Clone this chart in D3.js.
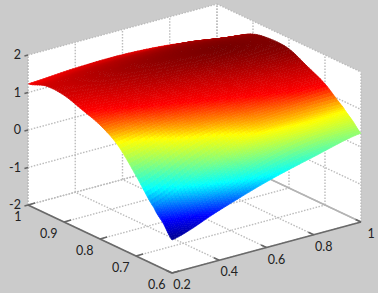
<!DOCTYPE html>
<html>
<head>
<meta charset="utf-8">
<script src="https://cdn.jsdelivr.net/npm/d3@7"></script>
<style>
  html, body { margin: 0; padding: 0; background: #cbcbcb; }
  svg { display: block; }
  text { font-family: Lato, "Open Sans", sans-serif; font-size: 12.5px; fill: #222; }
</style>
</head>
<body>
<div id="viz_container"></div>
<script>
const width = 378;
const height = 293;

const xTicks = [0.2, 0.4, 0.6, 0.8, 1];
const yTicks = [0.6, 0.7, 0.8, 0.9, 1];
const zTicks = [-2, -1, 0, 1, 2];

// surface, extra row near the front where it drops fast
const gridX = [0.2, 0.4, 0.6, 0.8, 1];
const gridY = [1, 0.95, 0.9, 0.85, 0.8, 0.75, 0.7, 0.65, 0.625, 0.6];
const zAt02 = [1.23, 1.40, 1.38, 1.22, 1.04, 0.72, 0.14, -0.49, -0.78, -1.12];
const zAt04 = [1.31, 1.50, 1.55, 1.42, 1.20, 0.98, 0.70, 0.14, -0.30, -0.67];
const zAt06 = [1.33, 1.55, 1.68, 1.62, 1.38, 1.16, 0.96, 0.72, 0.30, -0.25];
const zAt08 = [1.25, 1.54, 1.72, 1.76, 1.58, 1.33, 1.11, 0.86, 0.60, 0.08];
const zAt10 = [1.07, 1.37, 1.65, 1.74, 1.71, 1.48, 1.23, 0.84, 0.61, 0.37];
const zRows = [zAt02, zAt04, zAt06, zAt08, zAt10];

// colour stops, jet but squeezed to what the bands show
const colorZ = [-1.12, -0.75, -0.15, 0.3, 0.76, 1.2, 1.8];
const colorV = ["#00008f", "#0000ff", "#00ffff", "#80ff80", "#ffff00", "#ff0000", "#700000"];

const color = d3.scaleLinear().domain(colorZ).range(colorV).clamp(true);

// oblique projection, one pair of scales per data axis
const originX = 172;
const originY = 273;
const xToPx = d3.scaleLinear().domain([0.2, 1]).range([0, 189]);
const xToPy = d3.scaleLinear().domain([0.2, 1]).range([0, -51]);
const yToPx = d3.scaleLinear().domain([0.6, 1]).range([0, -144]);
const yToPy = d3.scaleLinear().domain([0.6, 1]).range([0, -68]);
const zToPy = d3.scaleLinear().domain([-2, 2]).range([0, -150]);

function project(x, y, z) {
  return [
    originX + xToPx(x) + yToPx(y),
    originY + xToPy(x) + yToPy(y) + zToPy(z),
  ];
}

const svg = d3
  .select("#viz_container")
  .append("svg")
  .attr("width", width)
  .attr("height", height)
  .attr("viewBox", `0 0 ${width} ${height}`);

const blur = svg.append("defs").append("filter").attr("id", "soft");
blur.append("feGaussianBlur").attr("stdDeviation", 0.45);

const plot = svg.append("g").attr("filter", "url(#soft)");
const line = d3.line();
const toPath = (d) => line(d.map((p) => project(p[0], p[1], p[2])));

// walls and floor
const walls = [
  [[0.2, 1, -2], [1, 1, -2], [1, 1, 2], [0.2, 1, 2]],
  [[1, 1, -2], [1, 0.6, -2], [1, 0.6, 2], [1, 1, 2]],
  [[0.2, 0.6, -2], [1, 0.6, -2], [1, 1, -2], [0.2, 1, -2]],
];
plot
  .selectAll("path.wall")
  .data(walls)
  .enter()
  .append("path")
  .attr("class", "wall")
  .attr("fill", "#ffffff")
  .attr("d", (d) => toPath(d) + "Z");

// dotted grid
const gridLines = [];
xTicks.forEach((x) => {
  gridLines.push([[x, 0.6, -2], [x, 1, -2]]);
  gridLines.push([[x, 1, -2], [x, 1, 2]]);
});
yTicks.forEach((y) => {
  gridLines.push([[0.2, y, -2], [1, y, -2]]);
  gridLines.push([[1, y, -2], [1, y, 2]]);
});
zTicks.forEach((z) => {
  gridLines.push([[0.2, 1, z], [1, 1, z]]);
  gridLines.push([[1, 1, z], [1, 0.6, z]]);
});
plot
  .selectAll("path.grid")
  .data(gridLines)
  .enter()
  .append("path")
  .attr("class", "grid")
  .attr("fill", "none")
  .attr("stroke", "#bcbcbc")
  .attr("stroke-width", 1.4)
  .attr("stroke-dasharray", "1.5 1.5")
  .attr("d", toPath);

// solid foot of the right wall
plot
  .append("path")
  .attr("fill", "none")
  .attr("stroke", "#b4b4b4")
  .attr("stroke-width", 1.5)
  .attr("d", toPath([[1, 1, -2], [1, 0.6, -2]]));

// surface: every grid quad is split up with a cubic through the read values,
// just for the smooth shading
const catmull = (p0, p1, p2, p3, t) =>
  0.5 *
  (2 * p1 +
    (p2 - p0) * t +
    (2 * p0 - 5 * p1 + 4 * p2 - p3) * t * t +
    (3 * p1 - p0 - 3 * p2 + p3) * t * t * t);
const pick = (arr, i) => arr[Math.max(0, Math.min(arr.length - 1, i))];

function surfaceAt(u, v) {
  const i = Math.min(Math.floor(u), gridX.length - 2);
  const j = Math.min(Math.floor(v), gridY.length - 2);
  const fu = u - i;
  const fv = v - j;
  const col = [-1, 0, 1, 2].map((di) => {
    const r = pick(zRows, i + di);
    return catmull(pick(r, j - 1), pick(r, j), pick(r, j + 1), pick(r, j + 2), fv);
  });
  const x = gridX[i] + (gridX[i + 1] - gridX[i]) * fu;
  const y = gridY[j] + (gridY[j + 1] - gridY[j]) * fv;
  return [x, y, catmull(col[0], col[1], col[2], col[3], fu)];
}

const steps = 8;
const cells = [];
const nu = (gridX.length - 1) * steps * 2;
const nv = (gridY.length - 1) * steps;
for (let b = 0; b < nv; b++) {
  for (let a = nu - 1; a >= 0; a--) {
    const du = 1 / (steps * 2);
    const dv = 1 / steps;
    cells.push([
      surfaceAt(a * du, b * dv),
      surfaceAt((a + 1) * du, b * dv),
      surfaceAt((a + 1) * du, (b + 1) * dv),
      surfaceAt(a * du, (b + 1) * dv),
    ]);
  }
}
plot
  .selectAll("path.cell")
  .data(cells)
  .enter()
  .append("path")
  .attr("class", "cell")
  .attr("d", (d) => toPath(d) + "Z")
  .attr("fill", (d) => color(d3.mean(d, (p) => p[2])))
  .attr("stroke", (d) => color(d3.mean(d, (p) => p[2])))
  .attr("stroke-width", 0.7);

// front axis lines and tick marks
const axisLines = [
  [[0.2, 0.6, -2], [1, 0.6, -2]],
  [[0.2, 0.6, -2], [0.2, 1, -2]],
];
plot
  .selectAll("path.axis")
  .data(axisLines)
  .enter()
  .append("path")
  .attr("class", "axis")
  .attr("fill", "none")
  .attr("stroke", "#6a6a6a")
  .attr("stroke-width", 1.8)
  .attr("d", toPath);

plot
  .append("path")
  .attr("fill", "none")
  .attr("stroke", "#bcbcbc")
  .attr("stroke-width", 1.4)
  .attr("stroke-dasharray", "1.5 1.5")
  .attr("d", toPath([[0.2, 1, -2], [0.2, 1, 2]]));

const tickMarks = [];
xTicks.forEach((x) => tickMarks.push([[x, 0.6, -2], [x, 0.615, -2]]));
yTicks.forEach((y) => tickMarks.push([[0.2, y, -2], [0.23, y, -2]]));
zTicks.forEach((z) => tickMarks.push([[0.2, 1, z], [0.185, 1, z]]));
plot
  .selectAll("path.tick")
  .data(tickMarks)
  .enter()
  .append("path")
  .attr("class", "tick")
  .attr("stroke", "#666666")
  .attr("stroke-width", 1.5)
  .attr("d", toPath);

// tick labels
const labels = svg.append("g");
labels
  .selectAll("text.z")
  .data(zTicks)
  .enter()
  .append("text")
  .attr("class", "z")
  .attr("text-anchor", "end")
  .attr("x", (d) => project(0.2, 1, d)[0] - 7)
  .attr("y", (d) => project(0.2, 1, d)[1] + 4)
  .text((d) => d);
labels
  .selectAll("text.y")
  .data(yTicks)
  .enter()
  .append("text")
  .attr("class", "y")
  .attr("text-anchor", "end")
  .attr("x", (d) => project(0.2, d, -2)[0] - 6.5)
  .attr("y", (d) => project(0.2, d, -2)[1] + 15.5)
  .text((d) => d);
labels
  .selectAll("text.x")
  .data(xTicks)
  .enter()
  .append("text")
  .attr("class", "x")
  .attr("text-anchor", "middle")
  .attr("x", (d) => project(d, 0.6, -2)[0] + 10)
  .attr("y", (d) => project(d, 0.6, -2)[1] + 16)
  .text((d) => d);
</script>
</body>
</html>
